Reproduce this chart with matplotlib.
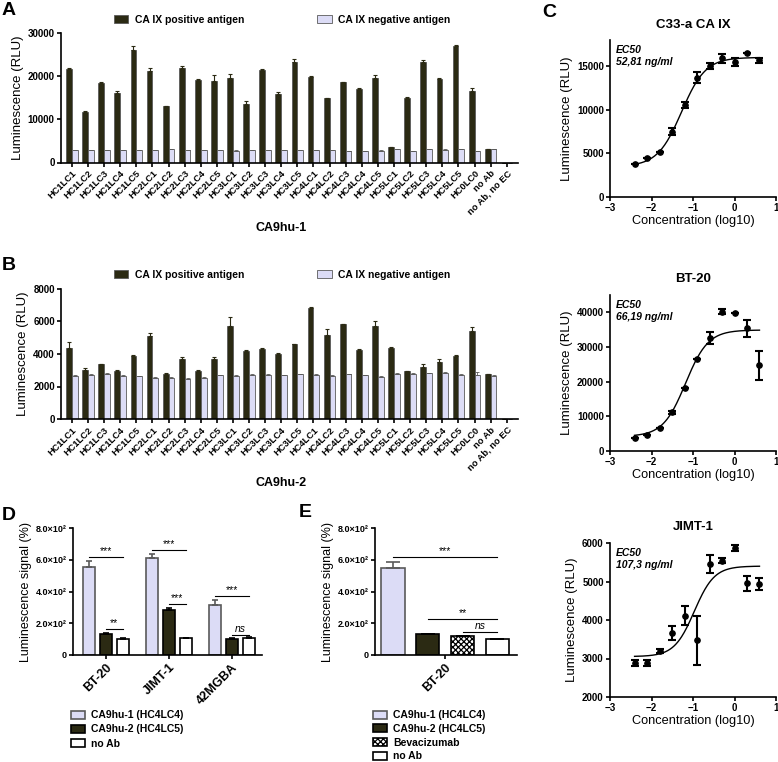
import numpy as np
import matplotlib
matplotlib.use('Agg')
import matplotlib.pyplot as plt
from matplotlib.ticker import FuncFormatter

# --- fonts / colours ---
plt.rcParams['font.family'] = 'Liberation Sans'
plt.rcParams['font.weight'] = 'bold'
plt.rcParams['hatch.linewidth'] = 0.9

DARK = '#2b2a13'
LIGHT = '#dcdcf6'
EDGE = '#5a5a5a'

# --- data: A / B (clone screening) ---
clones = ['HC1LC1', 'HC1LC2', 'HC1LC3', 'HC1LC4', 'HC1LC5',
          'HC2LC1', 'HC2LC2', 'HC2LC3', 'HC2LC4', 'HC2LC5',
          'HC3LC1', 'HC3LC2', 'HC3LC3', 'HC3LC4', 'HC3LC5',
          'HC4LC1', 'HC4LC2', 'HC4LC3', 'HC4LC4', 'HC4LC5',
          'HC5LC1', 'HC5LC2', 'HC5LC3', 'HC5LC4', 'HC5LC5',
          'HC0LC0', 'no Ab', 'no Ab, no EC']

a_pos = [21630, 11700, 18530, 16050, 25970, 21240, 13020, 21860, 19220, 18990,
         19690, 13640, 21420, 15850, 23200, 19800, 14850, 18560, 17090, 19570,
         3480, 15000, 23280, 19410, 27070, 16630, 3170, 0]
a_pos_err = [150, 150, 150, 540, 930, 620, 150, 460, 200, 1240,
             850, 620, 200, 500, 700, 150, 200, 200, 150, 800,
             100, 200, 400, 200, 150, 600, 50, 0]
a_neg = [2790, 2790, 2790, 2950, 2790, 2790, 3020, 2790, 2900, 2800,
         2750, 2800, 2900, 2850, 2850, 2950, 2850, 2650, 2600, 2750,
         3170, 2550, 3050, 3000, 3100, 2700, 3170, 0]
a_neg_err = [60, 60, 60, 60, 60, 60, 60, 60, 60, 60,
             60, 60, 60, 60, 60, 60, 60, 60, 60, 60,
             60, 60, 60, 60, 60, 60, 60, 0]

b_pos = [4340, 3020, 3370, 2980, 3890, 5120, 2760, 3720, 2980, 3720,
         5700, 4200, 4320, 4010, 4590, 6830, 5160, 5820, 4260, 5700,
         4340, 2940, 3210, 3520, 3890, 5410, 2740, 0]
b_pos_err = [410, 100, 30, 40, 60, 200, 50, 80, 30, 80,
             570, 30, 60, 40, 50, 60, 370, 30, 30, 300,
             70, 30, 160, 160, 50, 250, 30, 0]
b_neg = [2650, 2720, 2780, 2650, 2630, 2530, 2530, 2490, 2550, 2700,
         2670, 2720, 2720, 2700, 2740, 2720, 2650, 2760, 2700, 2590,
         2800, 2780, 2820, 2840, 2720, 2700, 2630, 0]
b_neg_err = [30, 30, 30, 80, 30, 30, 30, 30, 30, 30,
             30, 30, 30, 30, 30, 30, 30, 30, 30, 30,
             30, 30, 30, 30, 30, 180, 60, 0]

# --- data: C (dose response) ---
conc_log = [-2.408, -2.107, -1.806, -1.505, -1.204, -0.903, -0.602, -0.301, 0.0, 0.301, 0.602]

c33_y = [3730, 4460, 5120, 7500, 10540, 13690, 15000, 15880, 15500, 16540, 15650]
c33_err = [0, 0, 0, 400, 350, 600, 350, 550, 450, 0, 300]
c33_fit = (3500, 16000, -1.277, 1.5)   # bottom, top, logEC50, hill

bt20_y = [3650, 4600, 6630, 11150, 18270, 26630, 32500, 40190, 39900, 35380, 24700]
bt20_err = [0, 0, 0, 500, 0, 0, 1700, 800, 0, 2400, 4200]
bt20_fit = (4200, 34900, -1.179, 1.6)

jimt_y = [2880, 2880, 3190, 3660, 4110, 3470, 5450, 5540, 5860, 4950, 4930]
jimt_err = [70, 70, 60, 190, 250, 630, 230, 60, 80, 200, 150]
jimt_fit = (3050, 5400, -0.969, 1.8)

# --- data: D / E (relative signal, %) ---
d_cells = ['BT-20', 'JIMT-1', '42MGBA']
d_hu1 = [552, 610, 312]
d_hu1_err = [40, 24, 35]
d_hu2 = [135, 284, 101]
d_hu2_err = [3, 15, 3]
d_noab = [103, 105, 107]
d_noab_err = [2, 2, 5]
# (group, from bar, to bar, y, label)
d_sig = [(0, 0, 2, 615, '***'), (0, 1, 2, 164, '**'),
         (1, 0, 2, 661, '***'), (1, 1, 2, 324, '***'),
         (2, 0, 2, 370, '***'), (2, 1, 2, 126, 'ns')]

e_labels = ['CA9hu-1 (HC4LC4)', 'CA9hu-2 (HC4LC5)', 'Bevacizumab', 'no Ab']
e_vals = [547, 130, 118, 101]
e_err = [40, 3, 3, 2]
e_sig = [(0, 3, 619, '***'), (1, 3, 225, '**'), (2, 3, 145, 'ns')]

# --- figure ---
W, H = 778, 762
fig = plt.figure(figsize=(W / 100, H / 100), dpi=100)


def add_ax(l, t, r, b):
    ax = fig.add_axes([l / W, 1 - b / H, (r - l) / W, (b - t) / H])
    ax.spines['top'].set_visible(False)
    ax.spines['right'].set_visible(False)
    for s in ('left', 'bottom'):
        ax.spines[s].set_linewidth(1.2)
    ax.tick_params(width=1.2, length=3, pad=1.5, labelsize=7)
    return ax


def clone_panel(ax, pos, pos_err, neg, neg_err, top, step):
    x = np.arange(len(clones))
    w = 0.36
    ax.bar(x - w / 2, pos, w, color=DARK, edgecolor=EDGE, lw=0.6, label='CA IX positive antigen')
    ax.bar(x + w / 2, neg, w, color=LIGHT, edgecolor=EDGE, lw=0.6, label='CA IX negative antigen')
    ax.errorbar(x - w / 2, pos, yerr=[np.zeros(len(x)), pos_err], fmt='none',
                ecolor=DARK, elinewidth=0.8, capsize=1.5, capthick=0.8)
    ax.errorbar(x + w / 2, neg, yerr=[np.zeros(len(x)), neg_err], fmt='none',
                ecolor=EDGE, elinewidth=0.6, capsize=1.5, capthick=0.6)
    ax.set_xlim(-0.68, 27.7)
    ax.set_ylim(0, top)
    ax.set_yticks(np.arange(0, top + 1, step))
    ax.set_xticks(x)
    ax.set_xticklabels(clones, rotation=45, ha='right', rotation_mode='anchor', fontsize=6.7)
    ax.set_ylabel('Luminescence (RLU)', fontsize=9.5, fontweight='normal', labelpad=3)


axA = add_ax(61, 33, 518, 162.5)
clone_panel(axA, a_pos, a_pos_err, a_neg, a_neg_err, 30000, 10000)
axA.legend(ncol=2, loc='center', bbox_to_anchor=(282 / W, 1 - 20 / H), bbox_transform=fig.transFigure,
           frameon=False, fontsize=7.5, columnspacing=7.0, handlelength=1.4, handleheight=0.8,
           handletextpad=0.6, borderpad=0)
fig.text(281 / W, 1 - 228 / H, 'CA9hu-1', ha='center', va='center', fontsize=9)

axB = add_ax(61, 289, 518, 419)
clone_panel(axB, b_pos, b_pos_err, b_neg, b_neg_err, 8000, 2000)
axB.legend(ncol=2, loc='center', bbox_to_anchor=(282 / W, 1 - 275 / H), bbox_transform=fig.transFigure,
           frameon=False, fontsize=7.5, columnspacing=7.0, handlelength=1.4, handleheight=0.8,
           handletextpad=0.6, borderpad=0)
fig.text(281 / W, 1 - 483 / H, 'CA9hu-2', ha='center', va='center', fontsize=9)


def dose_panel(ax, y, err, fit, ylim, yticks, title, ec50):
    bottom, top, logec, hill = fit
    xs = np.linspace(conc_log[0], conc_log[-1], 200)
    curve = bottom + (top - bottom) / (1 + 10 ** ((logec - xs) * hill))
    ax.plot(xs, curve, color='black', lw=1)
    ax.errorbar(conc_log, y, yerr=err, fmt='o', color='black', ms=3.8,
                elinewidth=1.5, capsize=3, capthick=1.5)
    ax.set_xlim(-3, 1)
    ax.set_xticks([-3, -2, -1, 0, 1])
    ax.set_ylim(*ylim)
    ax.set_yticks(yticks)
    ax.set_title(title, fontsize=9.5, fontweight='bold', pad=9)
    ax.set_xlabel('Concentration (log10)', fontsize=9.2, fontweight='normal', labelpad=1)
    ax.set_ylabel('Luminescence (RLU)', fontsize=9.5, fontweight='normal', labelpad=3)
    ax.text(0.036, 0.97, 'EC50\n' + ec50, transform=ax.transAxes, ha='left', va='top',
            fontsize=7.5, fontweight='bold', style='italic', linespacing=1.3)


axC1 = add_ax(610, 40, 776, 197)
dose_panel(axC1, c33_y, c33_err, c33_fit, (0, 18000), [0, 5000, 10000, 15000], 'C33-a CA IX', '52,81 ng/ml')
axC2 = add_ax(610, 295, 776, 451)
dose_panel(axC2, bt20_y, bt20_err, bt20_fit, (0, 45000), [0, 10000, 20000, 30000, 40000], 'BT-20', '66,19 ng/ml')
axC3 = add_ax(610, 543, 776, 697)
dose_panel(axC3, jimt_y, jimt_err, jimt_fit, (2000, 6000), [2000, 3000, 4000, 5000, 6000], 'JIMT-1', '107,3 ng/ml')

sci_fmt = FuncFormatter(lambda v, p: '0' if v == 0 else f'{v / 100:.1f}\u00d710\u00b2')


def sig_line(ax, x0, x1, yv, lab):
    ax.plot([x0, x1], [yv, yv], color='black', lw=0.8)
    ax.text((x0 + x1) / 2, yv + 6, lab, ha='center', va='bottom', fontsize=7.5, fontweight='normal',
            style='italic' if lab == 'ns' else 'normal')


# --- D ---
axD = add_ax(73, 528, 262, 655)
axD.tick_params(axis='y', labelsize=6.5)
gx = np.arange(len(d_cells))
offs = [-0.27, 0.0, 0.27]
wd = 0.185
d_series = [(d_hu1, d_hu1_err, LIGHT, EDGE, 'CA9hu-1 (HC4LC4)'),
            (d_hu2, d_hu2_err, DARK, 'black', 'CA9hu-2 (HC4LC5)'),
            (d_noab, d_noab_err, 'white', 'black', 'no Ab')]
for k, (vals, errs, fc, ec, lab) in enumerate(d_series):
    axD.bar(gx + offs[k], vals, wd, color=fc, edgecolor=ec, lw=1.2, label=lab)
    axD.errorbar(gx + offs[k], vals, yerr=[np.zeros(len(gx)), errs], fmt='none',
                 ecolor=ec, elinewidth=1.2, capsize=2.5, capthick=1.2)
for g, b0, b1, yv, lab in d_sig:
    sig_line(axD, g + offs[b0], g + offs[b1], yv, lab)
axD.set_xlim(-0.52, 2.48)
axD.set_ylim(0, 800)
axD.set_yticks([0, 200, 400, 600, 800])
axD.yaxis.set_major_formatter(sci_fmt)
axD.set_xticks(gx)
axD.set_xticklabels(d_cells, rotation=45, ha='right', rotation_mode='anchor', fontsize=9)
axD.set_ylabel('Luminescence signal (%)', fontsize=9, fontweight='normal', labelpad=3)
axD.legend(loc='upper left', bbox_to_anchor=(66 / W, 1 - 705 / H), bbox_transform=fig.transFigure,
           frameon=False, fontsize=7.5, handlelength=1.3, handleheight=0.8, handletextpad=0.6,
           labelspacing=0.4, borderpad=0)

# --- E ---
axE = add_ax(375, 528, 517, 655)
axE.tick_params(axis='y', labelsize=6.5)
ex = np.arange(len(e_vals))
e_face = [LIGHT, DARK, 'white', 'white']
e_edge = [EDGE, 'black', 'black', 'black']
e_hatch = [None, None, 'xxxxxx', None]
for k in range(len(e_vals)):
    axE.bar(ex[k], e_vals[k], 0.675, color=e_face[k], edgecolor=e_edge[k], lw=1.2,
            hatch=e_hatch[k], label=e_labels[k])
    axE.errorbar(ex[k], e_vals[k], yerr=[[0], [e_err[k]]], fmt='none', ecolor=e_edge[k],
                 elinewidth=1.2, capsize=5, capthick=1.2)
for b0, b1, yv, lab in e_sig:
    sig_line(axE, ex[b0], ex[b1], yv, lab)
axE.set_xlim(-0.51, 3.56)
axE.set_ylim(0, 800)
axE.set_yticks([0, 200, 400, 600, 800])
axE.yaxis.set_major_formatter(sci_fmt)
axE.set_xticks([ex.mean()])
axE.set_xticklabels(['BT-20'], rotation=45, ha='right', rotation_mode='anchor', fontsize=9)
axE.set_ylabel('Luminescence signal (%)', fontsize=9, fontweight='normal', labelpad=3)
axE.legend(loc='upper left', bbox_to_anchor=(368 / W, 1 - 705 / H), bbox_transform=fig.transFigure,
           frameon=False, fontsize=7.5, handlelength=1.3, handleheight=0.8, handletextpad=0.6,
           labelspacing=0.35, borderpad=0)

# --- panel letters ---
for lab, (px, py) in {'A': (2, 2), 'B': (2, 257), 'C': (542, 4), 'D': (2, 507), 'E': (299, 504)}.items():
    fig.text(px / W, 1 - py / H, lab, ha='left', va='top', fontsize=14, fontweight='bold')

fig.savefig('out.png', dpi=100)
